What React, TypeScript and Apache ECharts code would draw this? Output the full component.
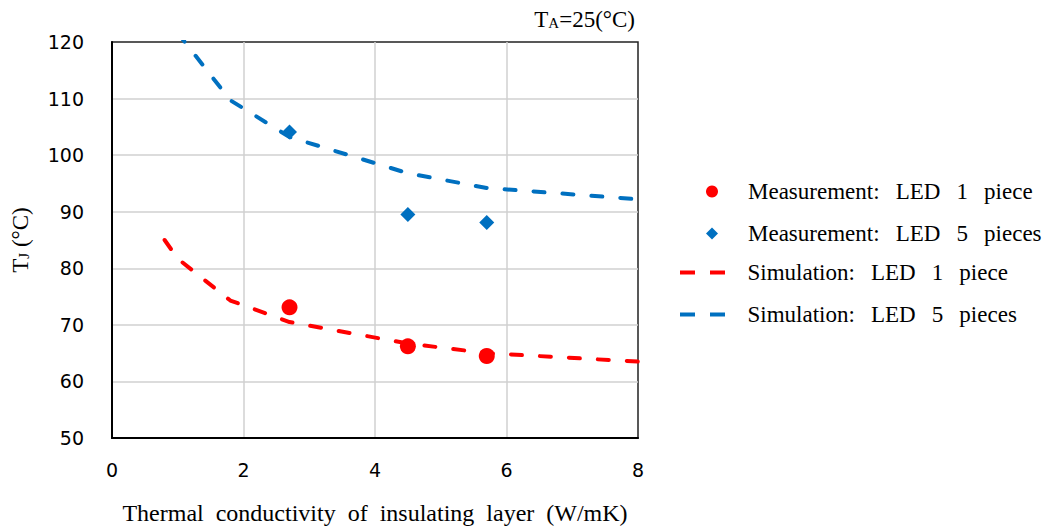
import React, { useEffect, useRef } from "react";
import * as echarts from "echarts";

// Measurements
const measX = [2.7, 4.5, 5.7];
const meas1 = [73.1, 66.2, 64.5];
const meas5 = [104.1, 89.5, 88.1];

// Simulations
const sim1X = [0.8, 1.0, 1.8, 2.7, 4.5, 5.7, 8];
const sim1 = [85.0, 81.7, 74.3, 70.5, 66.7, 65.0, 63.5];
const sim5X = [1.0, 1.8, 2.7, 4.5, 5.7, 8];
const sim5 = [121.6, 109.7, 103.2, 96.8, 94.2, 92.2];

const G = "  \u2009";
const names = [
  `Measurement:${G}LED${G}1${G}piece`,
  `Measurement:${G}LED${G}5${G}pieces`,
  `Simulation:${G}LED${G}1${G}piece`,
  `Simulation:${G}LED${G}5${G}pieces`,
];

const RED = "#FF0000";
const BLUE = "#0070C0";
const SERIF = "'Liberation Serif', 'Times New Roman', serif";
const SANS = "'DejaVu Sans', sans-serif";
const DASH_ICON = "path://M0,0H15V4H0ZM30,0H45V4H30Z";

export default function App() {
  const ref = useRef<HTMLDivElement>(null);
  useEffect(() => {
    document.body.style.margin = "0";
    const chart = echarts.init(ref.current!, null, { renderer: "svg" });
    const pair = (xs: number[], ys: number[]) => xs.map((x, i) => [x, ys[i]]);
    const subRich = {
      t: { fontFamily: SERIF, fontSize: 23, fontWeight: "normal", color: "#000" },
      s: { fontFamily: SERIF, fontSize: 15, fontWeight: "normal", color: "#000", verticalAlign: "bottom", padding: [0, 0, 1, 0] },
    };
    chart.setOption({
      animation: false,
      backgroundColor: "#ffffff",
      title: {
        text: "{t|T}{s|A}{t|=25(°C)}",
        right: 411,
        top: 8,
        padding: 0,
        textStyle: { fontWeight: "normal", rich: subRich },
      },
      legend: [
        {
          data: [names[0], names[1]],
          orient: "vertical",
          left: 706,
          top: 180,
          padding: 0,
          itemWidth: 12,
          itemHeight: 12,
          itemGap: 19,
          textStyle: { fontFamily: SERIF, fontSize: 23, color: "#000", lineHeight: 23, padding: [0, 0, 0, 25] },
        },
        {
          data: [
            { name: names[2], icon: DASH_ICON, itemStyle: { color: RED } },
            { name: names[3], icon: DASH_ICON, itemStyle: { color: BLUE } },
          ],
          orient: "vertical",
          left: 680,
          top: 261,
          padding: 0,
          itemWidth: 46,
          itemHeight: 4,
          itemGap: 19,
          lineStyle: { width: 0 },
          textStyle: { fontFamily: SERIF, fontSize: 23, color: "#000", lineHeight: 23, padding: [0, 0, 0, 17] },
        },
      ],
      grid: {
        left: 112,
        top: 42,
        width: 526,
        height: 400,
        show: true,
        borderColor: "#222",
        borderWidth: 1.5,
        containLabel: false,
      },
      xAxis: {
        type: "value",
        min: 0,
        max: 8,
        interval: 2,
        name: "Thermal  conductivity  of  insulating  layer  (W/mK)",
        nameLocation: "middle",
        nameGap: 63,
        nameTextStyle: { fontFamily: SERIF, fontSize: 24, color: "#000" },
        axisLine: { show: true, lineStyle: { color: "#000", width: 2 } },
        axisTick: { show: false },
        axisLabel: { fontFamily: SANS, fontSize: 19, color: "#000", margin: 22 },
        splitLine: { show: true, showMinLine: false, showMaxLine: false, lineStyle: { color: "#d0d0d0", width: 1.5 } },
      },
      yAxis: {
        type: "value",
        min: 50,
        max: 120,
        interval: 10,
        name: "{t|T}{s|J}{t| (°C)}",
        nameLocation: "middle",
        nameGap: 80,
        nameRotate: 90,
        nameTextStyle: { rich: subRich },
        axisLine: { show: true, lineStyle: { color: "#000", width: 2 } },
        axisTick: { show: false },
        axisLabel: { fontFamily: SANS, fontSize: 19, color: "#000", margin: 28 },
        splitLine: { show: true, showMinLine: false, showMaxLine: false, lineStyle: { color: "#d0d0d0", width: 1.5 } },
      },
      series: [
        {
          name: names[2],
          type: "line",
          data: pair(sim1X, sim1),
          symbol: "none",
          clip: true,
          z: 2,
          itemStyle: { color: RED },
          lineStyle: { color: RED, width: 4, type: [11, 18], cap: "round" },
        },
        {
          name: names[3],
          type: "line",
          data: pair(sim5X, sim5),
          symbol: "none",
          clip: true,
          z: 2,
          itemStyle: { color: BLUE },
          lineStyle: { color: BLUE, width: 4, type: [11, 18], cap: "round" },
        },
        {
          name: names[0],
          type: "scatter",
          data: pair(measX, meas1),
          symbol: "circle",
          symbolSize: 16,
          z: 3,
          itemStyle: { color: RED, opacity: 1 },
        },
        {
          name: names[1],
          type: "scatter",
          data: pair(measX, meas5),
          symbol: "diamond",
          symbolSize: 15,
          z: 3,
          itemStyle: { color: BLUE, opacity: 1 },
        },
      ],
    });
    return () => chart.dispose();
  }, []);
  return <div ref={ref} style={{ width: 1046, height: 530 }} />;
}
